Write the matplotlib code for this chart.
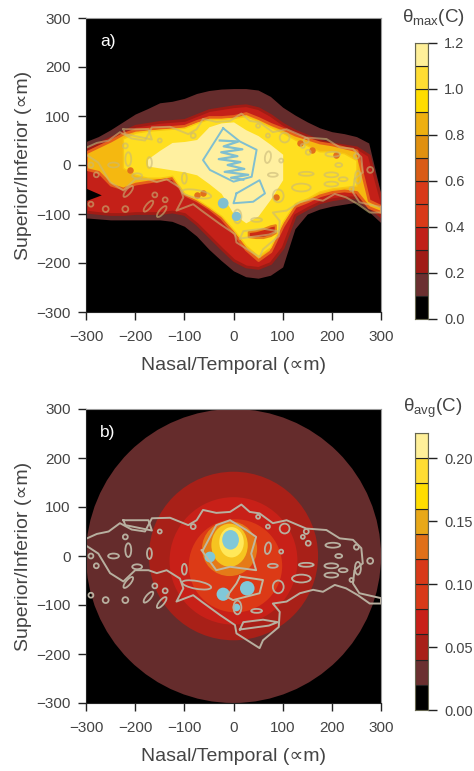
"""Two retinal temperature maps, theta max and theta avg, with stepped colour bars."""
import matplotlib

matplotlib.use("Agg")
import matplotlib.pyplot as plt  # noqa: E402
from matplotlib.patches import Circle, Ellipse  # noqa: E402

plt.rcParams["font.family"] = ["Liberation Sans", "DejaVu Sans"]
plt.rcParams["mathtext.fontset"] = "custom"
plt.rcParams["mathtext.rm"] = "Liberation Sans"
plt.rcParams["mathtext.it"] = "DejaVu Sans:italic"

TEXT = "#444444"
W, H = 474, 771

# envelopes of the theta max bands, read every 25 um
x_cols = list(range(-300, 301, 25))
brown_up = [48, 58, 72, 88, 104, 115, 127, 130, 136, 146, 152, 155, 156, 156, 153, 140, 118, 102, 88, 76, 68, 64, 58, 45, -60]
brown_lo = [-108, -110, -112, -112, -112, -112, -112, -115, -125, -145, -172, -195, -216, -228, -231, -225, -208, -130, -100, -90, -84, -80, -76, -95, -118]
red_up = [32, 44, 56, 68, 80, 84, 88, 90, 92, 102, 112, 116, 120, 122, 116, 102, 84, 70, 60, 50, 44, 40, 36, 20, -72]
red_lo = [-95, -98, -100, -100, -98, -98, -98, -95, -100, -120, -145, -170, -194, -207, -210, -200, -168, -102, -88, -76, -70, -66, -66, -85, -105]
gold_up = [26, 38, 50, 64, 72, 74, 76, 78, 80, 90, 98, 98, 100, 106, 96, 84, 74, 62, 54, 46, 42, 36, 30, -72, -84]
gold_lo = [-8, -14, -40, -48, -38, -34, -30, -26, -60, -72, -88, -108, -138, -172, -194, -176, -124, -84, -74, -62, -55, -52, -55, -86, -96]

yellow_x = list(range(-225, 251, 25))
yellow_up = [54, 66, 70, 72, 74, 76, 86, 94, 94, 96, 100, 90, 78, 66, 52, 40, 28, 28, 24, 10]
yellow_lo = [-6, -20, -26, -26, -22, -58, -70, -86, -104, -132, -164, -186, -168, -116, -78, -68, -54, -48, -45, -42]

pale_x = list(range(-175, 101, 25))
pale_up = [12, 30, 46, 48, 52, 78, 86, 88, 72, 60, 42, 22]
pale_lo = [-2, -6, -10, -14, -20, -38, -58, -100, -118, -104, -70, -30]

# small hot patches in panel a
red_band_x = [30, 45, 60, 75, 85]
red_band_up = [-136, -134, -130, -124, -122]
red_band_lo = [-146, -148, -148, -144, -138]
hot_spot_x = [87, -62, -75, 135, 209, -210, 160]
hot_spot_y = [-65, -58, -62, 44, 20, -10, 30]
notch_x = [-300, -268, -300]
notch_y = [-48, -62, -74]

# theta avg discs: centre x, centre y, radius
disc_x = [0, 0, 0, 4]
disc_y = [0, 0, -10, -20]
disc_r = [300, 172, 130, 95]

# shared isotherm, traced once around
iso_x = [-298, -278, -254, -231, -207, -180, -166, -129, -92, -75, -62, -35, -7, 16, 33, 53, 80, 108, 148, 189, 216, 243, 260, 263, 246, 243, 256, 300,
         300, 277, 253, 229, 206, 182, 162, 135, 108, 80, 94, 92, 60, 53, 6, 3, -28, -65, -82, -116, -102, -109, -136, -156, -173, -200, -224, -251, -275, -298]
iso_y = [36, 45, 50, 67, 54, 50, 77, 78, 63, 73, 94, 88, 90, 105, 90, 87, 67, 73, 56, 53, 36, 33, 16, -15, -29, -56, -76, -86,
         -97, -97, -80, -66, -59, -73, -69, -76, -93, -97, -114, -145, -172, -188, -158, -141, -120, -93, -80, -93, -66, -46, -29, -35, -29, -29, -52, -35, 5, 20]
iso2_x = [-224, -173, -166, -220, -224]
iso2_y = [73, 73, 52, 63, 73]
iso3_x = [13, 72, 90, 60, 20, 13]
iso3_y = [-150, -142, -135, -130, -135, -150]

# closed isotherm loops: x, y, width, height, angle
loop_x = [-290, -279, -220, -150, -196, -244, -214, -171, -290, -260, -220, -173, -146, -214, -160, -139, -100, -82, 50, 70, 104, 148, 141, 152, 70, 97, 80, 148, 199, 223, 199, 214, 202, 250, 278, 253, 240, 8, 47, 91, 138, -75]
loop_y = [0, -20, 39, 50, -22, 0, 12, 5, -80, -90, -90, -84, -95, -54, -61, -71, -27, 60, 80, 60, 56, 50, 39, 26, 16, 9, -20, -18, -20, -29, -39, 0, 22, 18, -10, -25, -49, -105, -112, -63, -46, -59]
loop_w = [10, 10, 10, 8, 20, 22, 12, 10, 10, 12, 12, 10, 10, 10, 10, 10, 10, 10, 8, 8, 20, 10, 8, 10, 12, 8, 20, 30, 28, 18, 28, 14, 30, 10, 12, 12, 8, 16, 22, 22, 38, 60]
loop_h = [10, 10, 10, 8, 10, 10, 28, 22, 10, 12, 12, 28, 28, 28, 10, 10, 22, 10, 8, 8, 20, 10, 8, 10, 24, 8, 8, 8, 10, 8, 10, 8, 10, 10, 12, 26, 8, 28, 8, 26, 16, 16]
loop_a = [0, 0, 0, 0, 0, 0, 0, 0, 0, 0, 0, -40, -40, -40, 0, 0, 0, 0, 0, 0, 0, 0, 0, 0, -10, 0, 0, 0, 0, 0, 0, 0, 0, 0, 0, 0, 0, 0, 0, 0, 0, -10]

# inner contours
cool_a1_x = [-21, -62, -48, 0, 37, 47, 13, -21]
cool_a1_y = [75, 10, -10, -34, -24, 31, 48, 75]
cool_a2_x = [6, 53, 64, 40, 0, 6]
cool_a2_y = [-58, -31, -58, -75, -78, -58]
scribble_x = [-28, 10, -20, 18, -25, 8, -30, 14, -12, 22, -18, 30, -5, 20]
scribble_y = [50, 48, 38, 32, 26, 18, 12, 6, 0, -8, -14, -20, -26, -30]
cool_blob_x = [-21, 6, 28, -48]
cool_blob_y = [-78, -105, -66, -2]
core_b_x = [-62, -35, -7, 26, 46, 36, 46, -7, -35, -65]
core_b_y = [12, 63, 73, 53, 39, 5, -29, -22, -29, 12]
lobe_b_x = [13, 60, 53, -1, -14, 6, 13]
lobe_b_y = [-42, -49, -76, -90, -83, -56, -42]

# colour bars
max_levels = [0.0, 0.1, 0.2, 0.3, 0.4, 0.5, 0.6, 0.7, 0.8, 0.9, 1.0, 1.1, 1.2]
max_colors = ["#000000", "#6b3030", "#a01c15", "#c02018", "#d83a18", "#d83a18", "#d95c15", "#e0900f", "#eeb010", "#ffdd00", "#ffdd33", "#fff099"]
max_ticks = [0.0, 0.2, 0.4, 0.6, 0.8, 1.0, 1.2]
avg_levels = [0.0, 0.02, 0.04, 0.06, 0.08, 0.10, 0.12, 0.14, 0.16, 0.18, 0.20, 0.22]
avg_colors = ["#000000", "#6b3030", "#a82018", "#c82018", "#d83a18", "#d83a18", "#e07018", "#e8a818", "#ffdd00", "#ffdd33", "#fff099"]
avg_ticks = [0.0, 0.05, 0.10, 0.15, 0.20]


def px_axes(fig, left, top, right, bottom):
    return fig.add_axes([left / W, 1 - bottom / H, (right - left) / W, (bottom - top) / H])


def style_map(ax, tag):
    ax.set_facecolor("black")
    ax.set_xlim(-300, 300)
    ax.set_ylim(-300, 300)
    ax.set_xticks(range(-300, 301, 100))
    ax.set_yticks(range(-300, 301, 100))
    ax.set_xticklabels(["\u2212300", "\u2212200", "\u2212100", "0", "100", "200", "300"])
    ax.set_yticklabels(["\u2212300", "\u2212200", "\u2212100", "0", "100", "200", "300"])
    ax.tick_params(length=6, width=1, labelsize=11, colors=TEXT, pad=5)
    ax.tick_params(axis="x", pad=7)
    ax.tick_params(axis="both", color="#222222")
    ax.set_xlabel("Nasal/Temporal (\u221dm)", fontsize=14, color=TEXT, labelpad=9)
    ax.set_ylabel("Superior/Inferior (\u221dm)", fontsize=14, color=TEXT, labelpad=3)
    for side in ["top", "right"]:
        ax.spines[side].set_color("#999999")
    for side in ["left", "bottom"]:
        ax.spines[side].set_color("#222222")
    ax.text(-272, 252, tag, color="white", fontsize=12.5, va="center")


def draw_isotherms(ax, color, alpha=1.0):
    ax.plot(iso_x, iso_y, color=color, lw=1.4, alpha=alpha)
    ax.plot(iso2_x, iso2_y, color=color, lw=1.4, alpha=alpha)
    ax.plot(iso3_x, iso3_y, color=color, lw=1.4, alpha=alpha)
    for x, y, w, h, a in zip(loop_x, loop_y, loop_w, loop_h, loop_a):
        ax.add_patch(Ellipse((x, y), w, h, angle=a, fc="none", ec=color, lw=1.3, alpha=alpha))


def draw_bar(ax, levels, colors, ticks, fmt, title, title_x, title_y):
    for lo, hi, c in zip(levels[:-1], levels[1:], colors):
        ax.bar(0, hi - lo, bottom=lo, width=1, color=c, edgecolor="#222222", lw=0.8)
    ax.set_xlim(-0.5, 0.5)
    ax.set_ylim(levels[0], levels[-1])
    ax.set_xticks([])
    ax.yaxis.tick_right()
    ax.set_yticks(ticks)
    ax.set_yticklabels([fmt % t for t in ticks])
    ax.tick_params(length=6.5, width=1, labelsize=10.5, colors=TEXT, pad=5)
    ax.tick_params(axis="y", color="#222222")
    for spine in ax.spines.values():
        spine.set_color("#666650")
    ax.figure.text(title_x / W, 1 - title_y / H, title, color=TEXT, fontsize=13.5, ha="center", va="center")


fig = plt.figure(figsize=(W / 100, H / 100), dpi=100)

# panel a
ax_a = px_axes(fig, 86, 18, 381, 312)
ax_a.fill_between(x_cols, brown_lo, brown_up, color="#652c2c", lw=0)
ax_a.fill_between(x_cols, red_lo, red_up, facecolor="#c42018", edgecolor="#a01c15", lw=2)
ax_a.fill_between(x_cols, gold_lo, gold_up, facecolor="#f5b810", edgecolor="#e6601a", lw=2)
ax_a.fill_between(yellow_x, yellow_lo, yellow_up, facecolor="#ffdf20", edgecolor="#f8c810", lw=1)
ax_a.fill_between(pale_x, pale_lo, pale_up, color="#fff0a0", lw=0)
ax_a.fill_between(red_band_x, red_band_lo, red_band_up, facecolor="#cc2a14", edgecolor="#e88018", lw=1.5)
ax_a.fill(notch_x, notch_y, color="black", lw=0)
ax_a.scatter(hot_spot_x, hot_spot_y, s=22, color="#e2701a", lw=0)
draw_isotherms(ax_a, "#c8b878", alpha=0.6)
ax_a.plot(cool_a1_x, cool_a1_y, color="#80bfd0", lw=1.4)
ax_a.plot(cool_a2_x, cool_a2_y, color="#80bfd0", lw=1.4)
ax_a.plot(scribble_x, scribble_y, color="#80bfd0", lw=1.6)
ax_a.scatter(cool_blob_x[:2], cool_blob_y[:2], s=[60, 45], color="#80bfd0", lw=0)

# panel b
ax_b = px_axes(fig, 86, 409, 381, 703)
for x, y, r, c in zip(disc_x, disc_y, disc_r, ["#652c2c", "#a82018", "#c82018", "#dc3a16"]):
    ax_b.add_patch(Circle((x, y), r, color=c, lw=0))
ax_b.add_patch(Circle((-8, 15), 56, color="#e57a18", lw=0))
ax_b.add_patch(Ellipse((-8, 22), 74, 88, color="#f6c420", lw=0))
ax_b.add_patch(Ellipse((-4, 28), 50, 62, color="#ffe85a", lw=0))
ax_b.add_patch(Ellipse((-6, 33), 34, 40, color="#80c8d8", lw=0))
ax_b.scatter(cool_blob_x, cool_blob_y, s=[90, 30, 110, 60], color="#80c8d8", lw=0)
draw_isotherms(ax_b, "#b8b0a0")
ax_b.plot(core_b_x, core_b_y, color="#c0b8a0", lw=1.4)
ax_b.plot(lobe_b_x, lobe_b_y, color="#c0b8a0", lw=1.4)

style_map(ax_a, "a)")
style_map(ax_b, "b)")

# colour bars
cb_a = px_axes(fig, 415, 43, 428, 319)
draw_bar(cb_a, max_levels, max_colors, max_ticks, "%.1f", r"$\mathrm{\theta_{max}}$(C)", 433, 17)
cb_b = px_axes(fig, 415, 433, 428, 710)
draw_bar(cb_b, avg_levels, avg_colors, avg_ticks, "%.2f", r"$\mathrm{\theta_{avg}}$(C)", 433, 408)

fig.savefig("out.png", dpi=100)
plt.close(fig)
